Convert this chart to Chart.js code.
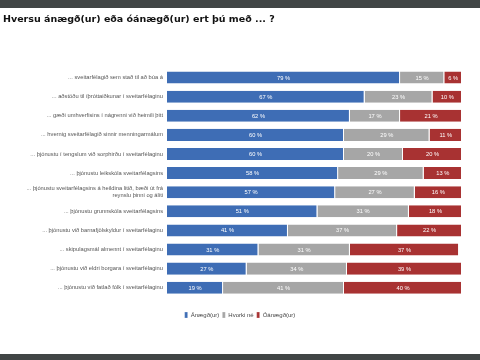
<!DOCTYPE html>
<html>
<head>
<meta charset="utf-8">
<script src="https://cdn.jsdelivr.net/npm/chart.js@4"></script>
<style>
html,body{margin:0;padding:0;background:#fff;}
#wrap{position:relative;width:480px;height:360px;overflow:hidden;}
#topband{position:absolute;left:0;top:0;width:480px;height:8px;background:#414545;}
#botband{position:absolute;left:0;top:354px;width:480px;height:6px;background:#414545;}
#title{position:absolute;left:3px;top:13px;font:bold 9.5px "DejaVu Sans",sans-serif;color:#111;white-space:nowrap;}
canvas{position:absolute;left:0;top:0;}
</style>
</head>
<body>
<div id="wrap">
<canvas id="c" width="480" height="360"></canvas>
<div id="topband"></div>
<div id="botband"></div>
<div id="title">Hversu ánægð(ur) eða óánægð(ur) ert þú með ... ?</div>
</div>
<script>
const categories = [
  "... sveitarfélagið sem stað til að búa á",
  "... aðstöðu til íþróttaiðkunar í sveitarfélaginu",
  "... gæði umhverfisins í nágrenni við heimili þitt",
  "... hvernig sveitarfélagið sinnir menningarmálum",
  "... þjónustu í tengslum við sorphirðu í sveitarfélaginu",
  "... þjónustu leikskóla sveitarfélagsins",
  ["... þjónustu sveitarfélagsins á heildina litið, bæði út frá", "reynslu þinni og áliti"],
  "... þjónustu grunnskóla sveitarfélagsins",
  "... þjónustu við barnafjölskyldur í sveitarfélaginu",
  "... skipulagsmál almennt í sveitarfélaginu",
  "... þjónustu við eldri borgara í sveitarfélaginu",
  "... þjónustu við fatlað fólk í sveitarfélaginu"
];
const seriesNames = ["Ánægð(ur)", "Hvorki né", "Óánægð(ur)"];
const satisfied   = [79, 67, 62, 60, 60, 58, 57, 51, 41, 31, 27, 19];
const neutral     = [15, 23, 17, 29, 20, 29, 27, 31, 37, 31, 34, 41];
const dissatisfied= [ 6, 10, 21, 11, 20, 13, 16, 18, 22, 37, 39, 40];
const colors = ["#3e6db5", "#a6a6a6", "#a83232"];

const labelPlugin = {
  id: 'segLabels',
  afterDatasetsDraw(chart) {
    const ctx = chart.ctx;
    ctx.save();
    ctx.fillStyle = '#ffffff';
    ctx.font = '5.75px "Liberation Sans", Arial, sans-serif';
    ctx.textAlign = 'center';
    ctx.textBaseline = 'middle';
    chart.data.datasets.forEach((ds, di) => {
      const meta = chart.getDatasetMeta(di);
      meta.data.forEach((el, i) => {
        const v = ds.data[i];
        const cx = (el.x + el.base) / 2;
        ctx.fillText(v + ' %', cx, el.y + 0.5);
      });
    });
    ctx.restore();
  }
};

new Chart(document.getElementById('c'), {
  type: 'bar',
  data: {
    labels: categories,
    datasets: [satisfied, neutral, dissatisfied].map((d, i) => ({
      label: seriesNames[i],
      data: d,
      backgroundColor: colors[i],
      borderColor: '#ffffff',
      borderWidth: {left: 0, right: 1, top: 0, bottom: 0},
      borderSkipped: false,
      barPercentage: 0.63,
      categoryPercentage: 1
    }))
  },
  options: {
    indexAxis: 'y',
    responsive: false,
    animation: false,
    layout: { padding: { top: 68, right: 0, bottom: 32, left: 0 } },
    scales: {
      x: {
        stacked: true, min: 0, max: 100, display: true,
        grid: { display: false, drawTicks: false },
        border: { display: false },
        ticks: { display: false },
        afterFit(scale) { scale.height = 11.7; }
      },
      y: {
        stacked: true,
        grid: { display: false, drawTicks: false },
        border: { display: false },
        ticks: {
          color: '#555',
          font: { family: '"Liberation Sans", Arial, sans-serif', size: 5.75 },
          padding: 4,
          autoSkip: false
        },
        afterFit(scale) { scale.width = 167; }
      },
      yRight: {
        type: 'category',
        position: 'right',
        display: true,
        grid: { display: false, drawTicks: false },
        border: { display: false },
        ticks: { display: false },
        afterFit(scale) { scale.width = 18; }
      }
    },
    plugins: {
      legend: {
        position: 'bottom',
        labels: {
          boxWidth: 3,
          boxHeight: 6,
          padding: 3,
          color: '#444',
          font: { family: '"Liberation Sans", Arial, sans-serif', size: 6 }
        }
      },
      tooltip: { enabled: false }
    }
  },
  plugins: [labelPlugin]
});
</script>
</body>
</html>
